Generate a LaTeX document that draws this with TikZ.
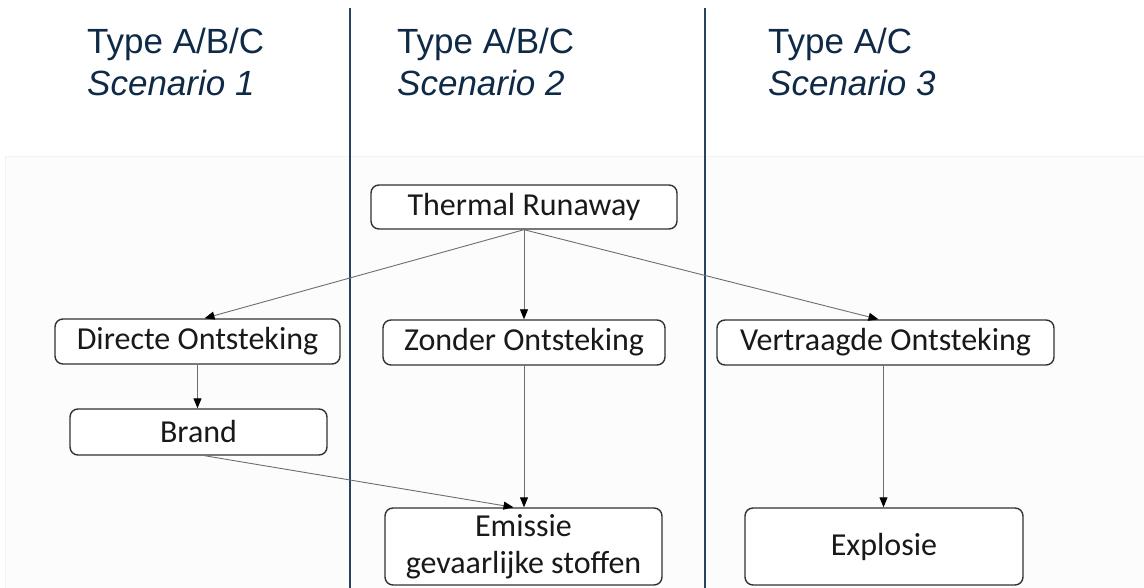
\documentclass[tikz,border=0pt]{standalone}
\usepackage{fontspec}
\setmainfont{Carlito}
\newfontfamily\titlefont{Liberation Sans}
\usetikzlibrary{arrows.meta}
\definecolor{navy}{RGB}{14,42,71}
\definecolor{vline}{RGB}{40,66,95}
\definecolor{boxline}{RGB}{50,50,50}
\definecolor{arrline}{RGB}{110,110,110}
\definecolor{bgpanel}{RGB}{252,252,252}
\tikzset{
  titletext/.style={anchor=base west, inner sep=0pt, text=navy, font=\titlefont\fontsize{35}{40}\selectfont},
  stepbox/.style={draw=boxline, line width=1.4pt, rounded corners=8pt, fill=white, inner sep=0pt,
    text=black!90, font=\fontsize{32}{37}\selectfont, align=center},
  conn/.style={draw=arrline, line width=0.9pt, -{Triangle[length=10pt,width=8pt,fill=black,color=black]}},
  divider/.style={draw=vline, line width=1.2pt}
}
\begin{document}
\begin{tikzpicture}[x=1pt,y=-1pt]
\useasboundingbox (0,0) rectangle (1144,588);
\fill[white] (0,0) rectangle (1144,588);
\fill[bgpanel] (5,156) rectangle (1144,588);
\draw[black!5, line width=0.8pt] (5,588) -- (5,156) -- (1144,156);
% dividers
\coordinate (d1t) at (350,8);
\coordinate (d1b) at (350,588);
\coordinate (d2t) at (705,8);
\coordinate (d2b) at (705,588);
\draw[divider] (d1t) -- (d1b);
\draw[divider] (d2t) -- (d2b);
% titles
\node[titletext] (t1a) at (87,54) {Type A/B/C};
\node[titletext] (t1b) at (87,96) {\itshape Scenario 1};
\node[titletext] (t2a) at (397,54) {Type A/B/C};
\node[titletext] (t2b) at (397,96) {\itshape Scenario 2};
\node[titletext] (t3a) at (768,54) {Type A/C};
\node[titletext] (t3b) at (768,96) {\itshape Scenario 3};
% boxes
\node[stepbox, minimum width=306pt, minimum height=44pt] (TR) at (524,207) {Thermal Runaway};
\node[stepbox, minimum width=285pt, minimum height=45pt] (DO) at (197.5,341.5) {Directe Ontsteking};
\node[stepbox, minimum width=257pt, minimum height=46pt] (BR) at (198.5,432) {Brand};
\node[stepbox, minimum width=282pt, minimum height=45pt] (ZO) at (524,342.5) {Zonder Ontsteking};
\node[stepbox, minimum width=337pt, minimum height=45pt] (VO) at (885.5,342.5) {Vertraagde Ontsteking};
\node[stepbox, minimum width=277pt, minimum height=77pt] (EM) at (523.5,546.5) {Emissie\\gevaarlijke stoffen};
\node[stepbox, minimum width=278pt, minimum height=77pt] (EX) at (884,546.5) {Explosie};
% connectors
\draw[conn] (TR.south) -- ([xshift=7pt]DO.north);
\draw[conn] (TR.south) -- (ZO.north);
\draw[conn] (TR.south) -- ([xshift=-7pt]VO.north);
\draw[conn] (DO.south) -- (DO.south |- BR.north);
\draw[conn] ([xshift=6pt]BR.south) -- ([xshift=-10pt]EM.north);
\draw[conn] (ZO.south) -- (ZO.south |- EM.north);
\draw[conn] ([xshift=-2pt]VO.south) -- ([xshift=-2pt]VO.south |- EX.north);
\end{tikzpicture}
\end{document}
